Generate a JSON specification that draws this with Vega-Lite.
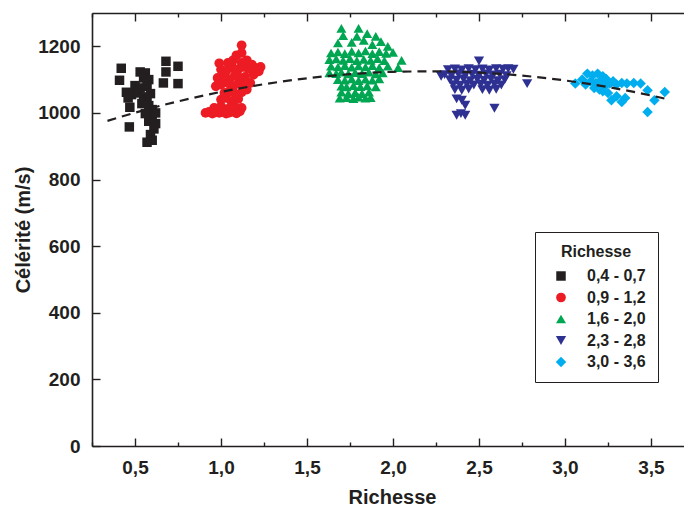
{
  "$schema": "https://vega.github.io/schema/vega-lite/v6.json",
  "autosize": {"type": "none"},
  "padding": {"left": 92, "top": 13, "right": 0, "bottom": 61},
  "width": 592,
  "height": 433,
  "background": "white",
  "config": {
    "font": "Liberation Sans",
    "view": {"stroke": null},
    "axis": {
      "domainColor": "#231f20", "domainWidth": 1.6,
      "tickColor": "#231f20", "tickWidth": 1.4,
      "labelFont": "Liberation Sans", "labelFontWeight": "bold", "labelFontSize": 19, "labelColor": "#231f20",
      "titleFont": "Liberation Sans", "titleFontWeight": "bold", "titleFontSize": 20, "titleColor": "#231f20",
      "grid": false
    },
    "legend": {
      "labelFont": "Liberation Sans", "labelFontWeight": "bold", "labelFontSize": 16, "labelColor": "#231f20",
      "titleFont": "Liberation Sans", "titleFontWeight": "bold", "titleFontSize": 16, "titleColor": "#231f20"
    }
  },
  "datasets": {
    "pts": [
      {"x": 0.42, "y": 1134, "g": "0,4 - 0,7"}, {"x": 0.41, "y": 1098, "g": "0,4 - 0,7"},
      {"x": 0.47, "y": 1017, "g": "0,4 - 0,7"}, {"x": 0.467, "y": 958, "g": "0,4 - 0,7"},
      {"x": 0.68, "y": 1155, "g": "0,4 - 0,7"}, {"x": 0.75, "y": 1140, "g": "0,4 - 0,7"},
      {"x": 0.68, "y": 1123, "g": "0,4 - 0,7"}, {"x": 0.665, "y": 1090, "g": "0,4 - 0,7"},
      {"x": 0.75, "y": 1088, "g": "0,4 - 0,7"}, {"x": 0.53, "y": 1123, "g": "0,4 - 0,7"},
      {"x": 0.56, "y": 1120, "g": "0,4 - 0,7"}, {"x": 0.55, "y": 1105, "g": "0,4 - 0,7"},
      {"x": 0.58, "y": 1100, "g": "0,4 - 0,7"}, {"x": 0.5, "y": 1082, "g": "0,4 - 0,7"},
      {"x": 0.53, "y": 1075, "g": "0,4 - 0,7"}, {"x": 0.57, "y": 1080, "g": "0,4 - 0,7"},
      {"x": 0.45, "y": 1062, "g": "0,4 - 0,7"}, {"x": 0.48, "y": 1055, "g": "0,4 - 0,7"},
      {"x": 0.52, "y": 1060, "g": "0,4 - 0,7"}, {"x": 0.46, "y": 1045, "g": "0,4 - 0,7"},
      {"x": 0.55, "y": 1048, "g": "0,4 - 0,7"}, {"x": 0.57, "y": 1038, "g": "0,4 - 0,7"},
      {"x": 0.54, "y": 1028, "g": "0,4 - 0,7"}, {"x": 0.58, "y": 1022, "g": "0,4 - 0,7"},
      {"x": 0.6, "y": 1010, "g": "0,4 - 0,7"}, {"x": 0.56, "y": 998, "g": "0,4 - 0,7"},
      {"x": 0.6, "y": 990, "g": "0,4 - 0,7"}, {"x": 0.58, "y": 975, "g": "0,4 - 0,7"},
      {"x": 0.62, "y": 968, "g": "0,4 - 0,7"}, {"x": 0.61, "y": 952, "g": "0,4 - 0,7"},
      {"x": 0.59, "y": 935, "g": "0,4 - 0,7"}, {"x": 0.6, "y": 918, "g": "0,4 - 0,7"},
      {"x": 0.57, "y": 912, "g": "0,4 - 0,7"}, {"x": 0.62, "y": 1000, "g": "0,4 - 0,7"},
      {"x": 0.59, "y": 1058, "g": "0,4 - 0,7"},

      {"x": 0.91, "y": 1000, "g": "0,9 - 1,2"}, {"x": 0.93, "y": 1003, "g": "0,9 - 1,2"},
      {"x": 0.95, "y": 998, "g": "0,9 - 1,2"}, {"x": 0.97, "y": 1002, "g": "0,9 - 1,2"},
      {"x": 0.99, "y": 1000, "g": "0,9 - 1,2"}, {"x": 1.01, "y": 1003, "g": "0,9 - 1,2"},
      {"x": 1.03, "y": 998, "g": "0,9 - 1,2"}, {"x": 1.05, "y": 1001, "g": "0,9 - 1,2"},
      {"x": 1.07, "y": 1004, "g": "0,9 - 1,2"}, {"x": 1.09, "y": 999, "g": "0,9 - 1,2"},
      {"x": 1.11, "y": 1005, "g": "0,9 - 1,2"}, {"x": 0.96, "y": 1015, "g": "0,9 - 1,2"},
      {"x": 1.0, "y": 1020, "g": "0,9 - 1,2"}, {"x": 1.04, "y": 1012, "g": "0,9 - 1,2"},
      {"x": 1.08, "y": 1018, "g": "0,9 - 1,2"}, {"x": 1.12, "y": 1015, "g": "0,9 - 1,2"},
      {"x": 1.0, "y": 1040, "g": "0,9 - 1,2"}, {"x": 1.03, "y": 1045, "g": "0,9 - 1,2"},
      {"x": 1.06, "y": 1035, "g": "0,9 - 1,2"}, {"x": 1.1, "y": 1042, "g": "0,9 - 1,2"},
      {"x": 1.02, "y": 1060, "g": "0,9 - 1,2"}, {"x": 1.05, "y": 1065, "g": "0,9 - 1,2"},
      {"x": 1.08, "y": 1058, "g": "0,9 - 1,2"}, {"x": 1.12, "y": 1062, "g": "0,9 - 1,2"},
      {"x": 1.15, "y": 1070, "g": "0,9 - 1,2"}, {"x": 0.97, "y": 1080, "g": "0,9 - 1,2"},
      {"x": 1.0, "y": 1085, "g": "0,9 - 1,2"}, {"x": 1.04, "y": 1090, "g": "0,9 - 1,2"},
      {"x": 1.07, "y": 1078, "g": "0,9 - 1,2"}, {"x": 1.1, "y": 1088, "g": "0,9 - 1,2"},
      {"x": 1.13, "y": 1082, "g": "0,9 - 1,2"}, {"x": 1.17, "y": 1090, "g": "0,9 - 1,2"},
      {"x": 0.98, "y": 1105, "g": "0,9 - 1,2"}, {"x": 1.01, "y": 1110, "g": "0,9 - 1,2"},
      {"x": 1.05, "y": 1100, "g": "0,9 - 1,2"}, {"x": 1.08, "y": 1112, "g": "0,9 - 1,2"},
      {"x": 1.11, "y": 1105, "g": "0,9 - 1,2"}, {"x": 1.14, "y": 1108, "g": "0,9 - 1,2"},
      {"x": 1.19, "y": 1115, "g": "0,9 - 1,2"}, {"x": 1.0, "y": 1130, "g": "0,9 - 1,2"},
      {"x": 1.03, "y": 1125, "g": "0,9 - 1,2"}, {"x": 1.07, "y": 1135, "g": "0,9 - 1,2"},
      {"x": 1.1, "y": 1130, "g": "0,9 - 1,2"}, {"x": 1.13, "y": 1138, "g": "0,9 - 1,2"},
      {"x": 1.16, "y": 1132, "g": "0,9 - 1,2"}, {"x": 1.2, "y": 1135, "g": "0,9 - 1,2"},
      {"x": 1.23, "y": 1138, "g": "0,9 - 1,2"}, {"x": 1.22, "y": 1125, "g": "0,9 - 1,2"},
      {"x": 0.99, "y": 1149, "g": "0,9 - 1,2"}, {"x": 1.04, "y": 1150, "g": "0,9 - 1,2"},
      {"x": 1.07, "y": 1158, "g": "0,9 - 1,2"}, {"x": 1.12, "y": 1150, "g": "0,9 - 1,2"},
      {"x": 1.15, "y": 1158, "g": "0,9 - 1,2"}, {"x": 1.18, "y": 1145, "g": "0,9 - 1,2"},
      {"x": 1.09, "y": 1173, "g": "0,9 - 1,2"}, {"x": 1.12, "y": 1180, "g": "0,9 - 1,2"},
      {"x": 1.12, "y": 1203, "g": "0,9 - 1,2"},

      {"x": 1.7, "y": 1254, "g": "1,6 - 2,0"}, {"x": 1.8, "y": 1254, "g": "1,6 - 2,0"},
      {"x": 1.71, "y": 1232, "g": "1,6 - 2,0"}, {"x": 1.79, "y": 1230, "g": "1,6 - 2,0"},
      {"x": 1.85, "y": 1238, "g": "1,6 - 2,0"}, {"x": 1.9, "y": 1230, "g": "1,6 - 2,0"},
      {"x": 1.68, "y": 1210, "g": "1,6 - 2,0"}, {"x": 1.76, "y": 1212, "g": "1,6 - 2,0"},
      {"x": 1.83, "y": 1218, "g": "1,6 - 2,0"}, {"x": 1.88, "y": 1205, "g": "1,6 - 2,0"},
      {"x": 1.93, "y": 1214, "g": "1,6 - 2,0"}, {"x": 1.97, "y": 1200, "g": "1,6 - 2,0"},
      {"x": 1.64, "y": 1180, "g": "1,6 - 2,0"}, {"x": 1.68, "y": 1183, "g": "1,6 - 2,0"},
      {"x": 1.72, "y": 1178, "g": "1,6 - 2,0"}, {"x": 1.76, "y": 1185, "g": "1,6 - 2,0"},
      {"x": 1.8, "y": 1180, "g": "1,6 - 2,0"}, {"x": 1.84, "y": 1186, "g": "1,6 - 2,0"},
      {"x": 1.88, "y": 1178, "g": "1,6 - 2,0"}, {"x": 1.92, "y": 1184, "g": "1,6 - 2,0"},
      {"x": 1.96, "y": 1179, "g": "1,6 - 2,0"}, {"x": 2.0, "y": 1182, "g": "1,6 - 2,0"},
      {"x": 1.63, "y": 1160, "g": "1,6 - 2,0"}, {"x": 1.67, "y": 1162, "g": "1,6 - 2,0"},
      {"x": 1.71, "y": 1158, "g": "1,6 - 2,0"}, {"x": 1.75, "y": 1163, "g": "1,6 - 2,0"},
      {"x": 1.79, "y": 1157, "g": "1,6 - 2,0"}, {"x": 1.83, "y": 1161, "g": "1,6 - 2,0"},
      {"x": 1.87, "y": 1158, "g": "1,6 - 2,0"}, {"x": 1.91, "y": 1163, "g": "1,6 - 2,0"},
      {"x": 1.95, "y": 1157, "g": "1,6 - 2,0"}, {"x": 2.05, "y": 1158, "g": "1,6 - 2,0"},
      {"x": 1.64, "y": 1140, "g": "1,6 - 2,0"}, {"x": 1.68, "y": 1138, "g": "1,6 - 2,0"},
      {"x": 1.72, "y": 1142, "g": "1,6 - 2,0"}, {"x": 1.76, "y": 1137, "g": "1,6 - 2,0"},
      {"x": 1.8, "y": 1141, "g": "1,6 - 2,0"}, {"x": 1.84, "y": 1138, "g": "1,6 - 2,0"},
      {"x": 1.88, "y": 1142, "g": "1,6 - 2,0"}, {"x": 1.92, "y": 1136, "g": "1,6 - 2,0"},
      {"x": 1.97, "y": 1140, "g": "1,6 - 2,0"}, {"x": 2.03, "y": 1136, "g": "1,6 - 2,0"},
      {"x": 1.63, "y": 1120, "g": "1,6 - 2,0"}, {"x": 1.67, "y": 1118, "g": "1,6 - 2,0"},
      {"x": 1.7, "y": 1122, "g": "1,6 - 2,0"}, {"x": 1.74, "y": 1117, "g": "1,6 - 2,0"},
      {"x": 1.78, "y": 1121, "g": "1,6 - 2,0"}, {"x": 1.82, "y": 1118, "g": "1,6 - 2,0"},
      {"x": 1.86, "y": 1122, "g": "1,6 - 2,0"}, {"x": 1.9, "y": 1117, "g": "1,6 - 2,0"},
      {"x": 1.94, "y": 1120, "g": "1,6 - 2,0"}, {"x": 1.68, "y": 1100, "g": "1,6 - 2,0"},
      {"x": 1.72, "y": 1098, "g": "1,6 - 2,0"}, {"x": 1.76, "y": 1102, "g": "1,6 - 2,0"},
      {"x": 1.8, "y": 1097, "g": "1,6 - 2,0"}, {"x": 1.84, "y": 1101, "g": "1,6 - 2,0"},
      {"x": 1.88, "y": 1098, "g": "1,6 - 2,0"}, {"x": 1.92, "y": 1102, "g": "1,6 - 2,0"},
      {"x": 1.7, "y": 1080, "g": "1,6 - 2,0"}, {"x": 1.73, "y": 1078, "g": "1,6 - 2,0"},
      {"x": 1.77, "y": 1082, "g": "1,6 - 2,0"}, {"x": 1.81, "y": 1079, "g": "1,6 - 2,0"},
      {"x": 1.85, "y": 1081, "g": "1,6 - 2,0"}, {"x": 1.9, "y": 1078, "g": "1,6 - 2,0"},
      {"x": 1.7, "y": 1062, "g": "1,6 - 2,0"}, {"x": 1.74, "y": 1058, "g": "1,6 - 2,0"},
      {"x": 1.78, "y": 1061, "g": "1,6 - 2,0"}, {"x": 1.82, "y": 1058, "g": "1,6 - 2,0"},
      {"x": 1.86, "y": 1062, "g": "1,6 - 2,0"}, {"x": 1.69, "y": 1044, "g": "1,6 - 2,0"},
      {"x": 1.73, "y": 1046, "g": "1,6 - 2,0"}, {"x": 1.77, "y": 1043, "g": "1,6 - 2,0"},
      {"x": 1.8, "y": 1047, "g": "1,6 - 2,0"}, {"x": 1.84, "y": 1044, "g": "1,6 - 2,0"},
      {"x": 1.87, "y": 1046, "g": "1,6 - 2,0"},

      {"x": 2.5, "y": 1156, "g": "2,3 - 2,8"}, {"x": 2.28, "y": 1110, "g": "2,3 - 2,8"},
      {"x": 2.78, "y": 1088, "g": "2,3 - 2,8"}, {"x": 2.59, "y": 1014, "g": "2,3 - 2,8"},
      {"x": 2.37, "y": 993, "g": "2,3 - 2,8"}, {"x": 2.42, "y": 993, "g": "2,3 - 2,8"},
      {"x": 2.395, "y": 998, "g": "2,3 - 2,8"}, {"x": 2.4, "y": 1038, "g": "2,3 - 2,8"},
      {"x": 2.42, "y": 1023, "g": "2,3 - 2,8"}, {"x": 2.37, "y": 1042, "g": "2,3 - 2,8"},
      {"x": 2.32, "y": 1130, "g": "2,3 - 2,8"}, {"x": 2.36, "y": 1132, "g": "2,3 - 2,8"},
      {"x": 2.4, "y": 1129, "g": "2,3 - 2,8"}, {"x": 2.44, "y": 1133, "g": "2,3 - 2,8"},
      {"x": 2.48, "y": 1130, "g": "2,3 - 2,8"}, {"x": 2.52, "y": 1132, "g": "2,3 - 2,8"},
      {"x": 2.56, "y": 1129, "g": "2,3 - 2,8"}, {"x": 2.6, "y": 1133, "g": "2,3 - 2,8"},
      {"x": 2.64, "y": 1131, "g": "2,3 - 2,8"}, {"x": 2.67, "y": 1133, "g": "2,3 - 2,8"},
      {"x": 2.7, "y": 1131, "g": "2,3 - 2,8"}, {"x": 2.3, "y": 1115, "g": "2,3 - 2,8"},
      {"x": 2.34, "y": 1113, "g": "2,3 - 2,8"}, {"x": 2.38, "y": 1117, "g": "2,3 - 2,8"},
      {"x": 2.42, "y": 1114, "g": "2,3 - 2,8"}, {"x": 2.46, "y": 1116, "g": "2,3 - 2,8"},
      {"x": 2.5, "y": 1113, "g": "2,3 - 2,8"}, {"x": 2.54, "y": 1117, "g": "2,3 - 2,8"},
      {"x": 2.58, "y": 1114, "g": "2,3 - 2,8"}, {"x": 2.62, "y": 1116, "g": "2,3 - 2,8"},
      {"x": 2.66, "y": 1112, "g": "2,3 - 2,8"}, {"x": 2.33, "y": 1100, "g": "2,3 - 2,8"},
      {"x": 2.37, "y": 1098, "g": "2,3 - 2,8"}, {"x": 2.41, "y": 1102, "g": "2,3 - 2,8"},
      {"x": 2.45, "y": 1097, "g": "2,3 - 2,8"}, {"x": 2.49, "y": 1101, "g": "2,3 - 2,8"},
      {"x": 2.53, "y": 1098, "g": "2,3 - 2,8"}, {"x": 2.57, "y": 1102, "g": "2,3 - 2,8"},
      {"x": 2.61, "y": 1097, "g": "2,3 - 2,8"}, {"x": 2.65, "y": 1100, "g": "2,3 - 2,8"},
      {"x": 2.35, "y": 1085, "g": "2,3 - 2,8"}, {"x": 2.39, "y": 1083, "g": "2,3 - 2,8"},
      {"x": 2.43, "y": 1087, "g": "2,3 - 2,8"}, {"x": 2.47, "y": 1084, "g": "2,3 - 2,8"},
      {"x": 2.51, "y": 1086, "g": "2,3 - 2,8"}, {"x": 2.55, "y": 1083, "g": "2,3 - 2,8"},
      {"x": 2.59, "y": 1087, "g": "2,3 - 2,8"}, {"x": 2.63, "y": 1084, "g": "2,3 - 2,8"},
      {"x": 2.36, "y": 1070, "g": "2,3 - 2,8"}, {"x": 2.4, "y": 1068, "g": "2,3 - 2,8"},
      {"x": 2.44, "y": 1072, "g": "2,3 - 2,8"}, {"x": 2.52, "y": 1070, "g": "2,3 - 2,8"},
      {"x": 2.56, "y": 1068, "g": "2,3 - 2,8"}, {"x": 2.6, "y": 1071, "g": "2,3 - 2,8"},

      {"x": 3.06, "y": 1088, "g": "3,0 - 3,6"}, {"x": 3.1, "y": 1100, "g": "3,0 - 3,6"},
      {"x": 3.13, "y": 1118, "g": "3,0 - 3,6"}, {"x": 3.16, "y": 1112, "g": "3,0 - 3,6"},
      {"x": 3.19, "y": 1118, "g": "3,0 - 3,6"}, {"x": 3.22, "y": 1110, "g": "3,0 - 3,6"},
      {"x": 3.12, "y": 1085, "g": "3,0 - 3,6"}, {"x": 3.15, "y": 1095, "g": "3,0 - 3,6"},
      {"x": 3.18, "y": 1090, "g": "3,0 - 3,6"}, {"x": 3.21, "y": 1098, "g": "3,0 - 3,6"},
      {"x": 3.24, "y": 1102, "g": "3,0 - 3,6"}, {"x": 3.17, "y": 1075, "g": "3,0 - 3,6"},
      {"x": 3.2, "y": 1070, "g": "3,0 - 3,6"}, {"x": 3.23, "y": 1080, "g": "3,0 - 3,6"},
      {"x": 3.26, "y": 1088, "g": "3,0 - 3,6"}, {"x": 3.28, "y": 1095, "g": "3,0 - 3,6"},
      {"x": 3.3, "y": 1085, "g": "3,0 - 3,6"}, {"x": 3.33, "y": 1090, "g": "3,0 - 3,6"},
      {"x": 3.36, "y": 1088, "g": "3,0 - 3,6"}, {"x": 3.4, "y": 1090, "g": "3,0 - 3,6"},
      {"x": 3.44, "y": 1088, "g": "3,0 - 3,6"}, {"x": 3.22, "y": 1065, "g": "3,0 - 3,6"},
      {"x": 3.25, "y": 1060, "g": "3,0 - 3,6"}, {"x": 3.27, "y": 1038, "g": "3,0 - 3,6"},
      {"x": 3.3, "y": 1050, "g": "3,0 - 3,6"}, {"x": 3.33, "y": 1033, "g": "3,0 - 3,6"},
      {"x": 3.35, "y": 1045, "g": "3,0 - 3,6"}, {"x": 3.48, "y": 1068, "g": "3,0 - 3,6"},
      {"x": 3.52, "y": 1038, "g": "3,0 - 3,6"}, {"x": 3.48, "y": 1003, "g": "3,0 - 3,6"},
      {"x": 3.58, "y": 1063, "g": "3,0 - 3,6"}
    ],
    "fit": [
      {"x": 0.34, "y": 976.2}, {"x": 0.5, "y": 1000.7}, {"x": 0.75, "y": 1034.6},
      {"x": 1.0, "y": 1063.1}, {"x": 1.25, "y": 1086.2}, {"x": 1.5, "y": 1103.9},
      {"x": 1.75, "y": 1116.3}, {"x": 2.0, "y": 1123.3}, {"x": 2.25, "y": 1124.9},
      {"x": 2.5, "y": 1121.1}, {"x": 2.75, "y": 1112.0}, {"x": 3.0, "y": 1097.5},
      {"x": 3.25, "y": 1077.6}, {"x": 3.5, "y": 1052.3}, {"x": 3.6, "y": 1040.7}
    ]
  },
  "layer": [
    {
      "data": {"name": "pts"},
      "mark": {"type": "point", "filled": true, "opacity": 1, "strokeWidth": 0},
      "encoding": {
        "x": {
          "field": "x", "type": "quantitative",
          "scale": {"domain": [0.25, 3.692], "nice": false, "zero": false},
          "axis": {
            "title": "Richesse", "values": [0.25,0.5,0.75,1,1.25,1.5,1.75,2,2.25,2.5,2.75,3,3.25,3.5],
            "labelExpr": "(datum.value*2) % 1 == 0 ? replace(format(datum.value, '.1f'), '.', ',') : ''",
            "tickSize": {"condition": {"test": "(datum.value*2) % 1 == 0", "value": -8}, "value": -4},
            "labelPadding": 20, "titlePadding": 10, "titleX": 300
          }
        },
        "y": {
          "field": "y", "type": "quantitative",
          "scale": {"domain": [0, 1300], "nice": false},
          "axis": {
            "title": "Célérité (m/s)", "values": [0,100,200,300,400,500,600,700,800,900,1000,1100,1200],
            "labelExpr": "datum.value % 200 == 0 ? datum.value : ''",
            "tickSize": {"condition": {"test": "datum.value % 200 == 0", "value": -8}, "value": -4},
            "labelPadding": 20, "titlePadding": 4
          }
        },
        "shape": {
          "field": "g", "type": "nominal",
          "scale": {"domain": ["0,4 - 0,7", "0,9 - 1,2", "1,6 - 2,0", "2,3 - 2,8", "3,0 - 3,6"],
                    "range": ["square", "circle", "triangle-up", "triangle-down", "diamond"]},
          "legend": {
            "title": "Richesse", "orient": "none", "legendX": 443, "legendY": 219,
            "strokeColor": "#231f20", "fillColor": "white", "padding": 12,
            "titleAnchor": "middle", "titlePadding": 8, "rowPadding": 5.5,
            "symbolOffset": 6, "labelOffset": 18, "symbolSize": 110, "symbolStrokeWidth": 0
          }
        },
        "color": {
          "field": "g", "type": "nominal",
          "scale": {"domain": ["0,4 - 0,7", "0,9 - 1,2", "1,6 - 2,0", "2,3 - 2,8", "3,0 - 3,6"],
                    "range": ["#231f20", "#ed1c24", "#00a651", "#2e3192", "#00aeef"]}
        },
        "size": {
          "field": "g", "type": "nominal",
          "scale": {"domain": ["0,4 - 0,7", "0,9 - 1,2", "1,6 - 2,0", "2,3 - 2,8", "3,0 - 3,6"],
                    "range": [90, 110, 150, 150, 130]}
        }
      }
    },
    {
      "data": {"name": "fit"},
      "mark": {"type": "line", "color": "#231f20", "strokeWidth": 2.2, "strokeDash": [9, 6], "interpolate": "monotone"},
      "encoding": {
        "x": {
          "field": "x", "type": "quantitative",
          "axis": {
            "orient": "top", "title": null, "labels": false,
            "values": [0.25,0.5,0.75,1,1.25,1.5,1.75,2,2.25,2.5,2.75,3,3.25,3.5],
            "tickSize": {"condition": {"test": "(datum.value*2) % 1 == 0", "value": -8}, "value": -4}
          }
        },
        "y": {"field": "y", "type": "quantitative"}
      }
    }
  ],
  "resolve": {"axis": {"x": "independent"}}
}
